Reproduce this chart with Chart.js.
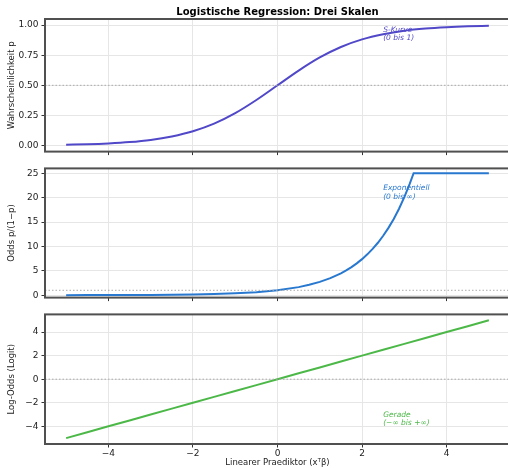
<!DOCTYPE html>
<html>
<head>
<meta charset="utf-8">
<script src="https://cdn.jsdelivr.net/npm/chart.js@4.4.1/dist/chart.umd.min.js"></script>
<style>
    html, body { margin: 0; padding: 0; background: #fff; overflow: hidden; width: 508px; height: 468px; }
    canvas { position: absolute; left: 0; }
</style>
</head>
<body>
<canvas id="chart-p" width="512" height="160" style="top:0"></canvas>
<canvas id="chart-odds" width="512" height="146" style="top:160px"></canvas>
<canvas id="chart-logit" width="512" height="162" style="top:306px"></canvas>
<script>
    // Werte
    const xValues = [-5, -4.5, -4, -3.5, -3, -2.5, -2, -1.5, -1, -0.5, 0, 0.5, 1, 1.5, 2, 2.5, 3, 3.5, 4, 4.5, 5];
    const pValues = [0.007, 0.011, 0.018, 0.029, 0.047, 0.076, 0.119, 0.182, 0.269, 0.378, 0.5, 0.622, 0.731, 0.818, 0.881, 0.924, 0.953, 0.971, 0.982, 0.989, 0.993];

    const xOdds = [-5, -4.5, -4, -3.5, -3, -2.5, -2, -1.5, -1, -0.5, 0, 0.5, 0.75, 1, 1.25, 1.5, 1.625, 1.75, 1.875, 2, 2.125, 2.25, 2.375, 2.5, 2.625, 2.75, 2.875, 3, 3.125, 3.22, 3.5, 4, 4.5, 5];
    const oddsValues = [0.007, 0.011, 0.018, 0.03, 0.05, 0.082, 0.135, 0.22, 0.37, 0.61, 1.0, 1.65, 2.12, 2.72, 3.49, 4.48, 5.08, 5.75, 6.52, 7.39, 8.37, 9.49, 10.75, 12.18, 13.8, 15.64, 17.72, 20.09, 22.76, 25, 25, 25, 25, 25];

    const logitValues = [-5, -4.5, -4, -3.5, -3, -2.5, -2, -1.5, -1, -0.5, 0, 0.5, 1, 1.5, 2, 2.5, 3, 3.5, 4, 4.5, 5];

    const xTicks = [-4, -2, 0, 2, 4];
    const pTicks = [0, 0.25, 0.5, 0.75, 1];
    const oddsTicks = [0, 5, 10, 15, 20, 25];
    const logitTicks = [-4, -2, 0, 2, 4];

    const font = "'DejaVu Sans', sans-serif";
    const minus = (v) => String(v).replace("-", "\u2212");

    // Rahmen um die Zeichenfläche
    const framePlugin = {
        id: "frame",
        afterDraw(chart) {
            const { ctx, chartArea: a } = chart;
            ctx.save();
            ctx.strokeStyle = "#505050";
            ctx.lineWidth = 2;
            ctx.strokeRect(a.left, a.top, a.right - a.left, a.bottom - a.top);
            ctx.restore();
        },
    };

    // kursive Beschriftung im Diagramm
    const notePlugin = {
        id: "note",
        afterDatasetsDraw(chart, args, opts) {
            if (!opts.lines) return;
            const ctx = chart.ctx;
            const x = chart.scales.x.getPixelForValue(opts.x);
            const y = chart.scales.y.getPixelForValue(opts.y);
            ctx.save();
            ctx.font = "italic 7.5px " + font;
            ctx.fillStyle = opts.color;
            ctx.textBaseline = "top";
            opts.lines.forEach((t, i) => ctx.fillText(t, x, y + i * 8.5));
            ctx.restore();
        },
    };

    function createPanel(id, cfg) {
        const points = cfg.xs.map((x, i) => ({ x: x, y: cfg.ys[i] }));
        const datasets = [
            {
                data: [{ x: -5.5, y: cfg.ref }, { x: 5.5, y: cfg.ref }],
                borderColor: "#aaa",
                borderWidth: 1,
                borderDash: [1.5, 2],
                pointRadius: 0,
            },
            {
                data: points,
                borderColor: cfg.color,
                borderWidth: 2,
                pointRadius: 0,
                tension: cfg.smooth ? 0.4 : 0,
                cubicInterpolationMode: cfg.smooth ? "monotone" : "default",
            },
        ];

        return new Chart(document.getElementById(id), {
            type: "line",
            data: { datasets: datasets },
            plugins: [framePlugin, notePlugin],
            options: {
                responsive: false,
                animation: false,
                layout: { padding: { left: 0, right: 2, top: cfg.padTop, bottom: 0 } },
                plugins: {
                    legend: { display: false },
                    tooltip: { enabled: false },
                    title: cfg.title
                        ? {
                              display: true,
                              text: cfg.title,
                              fullSize: false,
                              color: "#000",
                              font: { family: font, size: 10, weight: "bold" },
                              padding: { top: 6, bottom: 1 },
                          }
                        : { display: false },
                    note: cfg.note,
                },
                scales: {
                    x: {
                        type: "linear",
                        min: -5.5,
                        max: 5.5,
                        afterBuildTicks: (s) => (s.ticks = xTicks.map((v) => ({ value: v }))),
                        afterFit: (s) => (s.height = cfg.xHeight),
                        border: { display: false },
                        grid: { color: "#e6e6e6", lineWidth: 1, tickColor: "#333", tickLength: 3.5 },
                        ticks: {
                            color: "#222",
                            padding: 1,
                            maxRotation: 0,
                            font: { family: font, size: 9 },
                            callback: (v) => (cfg.xLabels ? minus(v) : ""),
                        },
                        title: cfg.xLabels
                            ? {
                                  display: true,
                                  text: "Linearer Praediktor (x\u1D40\u03B2)",
                                  color: "#222",
                                  font: { family: font, size: 8.5 },
                                  padding: { top: 0, bottom: 0 },
                              }
                            : { display: false },
                    },
                    y: {
                        min: cfg.yMin,
                        max: cfg.yMax,
                        afterBuildTicks: (s) => (s.ticks = cfg.yTicks.map((v) => ({ value: v }))),
                        afterFit: (s) => (s.width = 45),
                        border: { display: false },
                        grid: { color: "#e6e6e6", lineWidth: 1, tickColor: "#333", tickLength: 3.5 },
                        ticks: {
                            color: "#222",
                            padding: 3,
                            font: { family: font, size: 9 },
                            callback: cfg.yFormat,
                        },
                        title: {
                            display: true,
                            text: cfg.yTitle,
                            color: "#222",
                            font: { family: font, size: 8.5 },
                            padding: { top: 7, bottom: 0 },
                        },
                    },
                },
            },
        });
    }

    createPanel("chart-p", {
        xs: xValues,
        ys: pValues,
        ref: 0.5,
        color: "#5048c8",
        smooth: true,
        title: "Logistische Regression: Drei Skalen",
        padTop: 0,
        xHeight: 8,
        xLabels: false,
        yMin: -0.05,
        yMax: 1.05,
        yTicks: pTicks,
        yFormat: (v) => v.toFixed(2),
        yTitle: "Wahrscheinlichkeit p",
        note: { x: 2.5, y: 0.99, color: "#5048c8", lines: ["S-Kurve", "(0 bis 1)"] },
    });

    createPanel("chart-odds", {
        xs: xOdds,
        ys: oddsValues,
        ref: 1,
        color: "#2878d0",
        smooth: false,
        padTop: 6,
        xHeight: 8,
        xLabels: false,
        yMin: -0.5,
        yMax: 26,
        yTicks: oddsTicks,
        yFormat: (v) => String(v),
        yTitle: "Odds p/(1\u2212p)",
        note: { x: 2.5, y: 22.7, color: "#2878d0", lines: ["Exponentiell", "(0 bis \u221E)"] },
    });

    createPanel("chart-logit", {
        xs: xValues,
        ys: logitValues,
        ref: 0,
        color: "#4cb848",
        smooth: false,
        padTop: 6,
        xHeight: 24,
        xLabels: true,
        yMin: -5.5,
        yMax: 5.5,
        yTicks: logitTicks,
        yFormat: (v) => minus(v),
        yTitle: "Log-Odds (Logit)",
        note: { x: 2.5, y: -2.7, color: "#4cb848", lines: ["Gerade", "(\u2212\u221E bis +\u221E)"] },
    });
</script>
</body>
</html>
